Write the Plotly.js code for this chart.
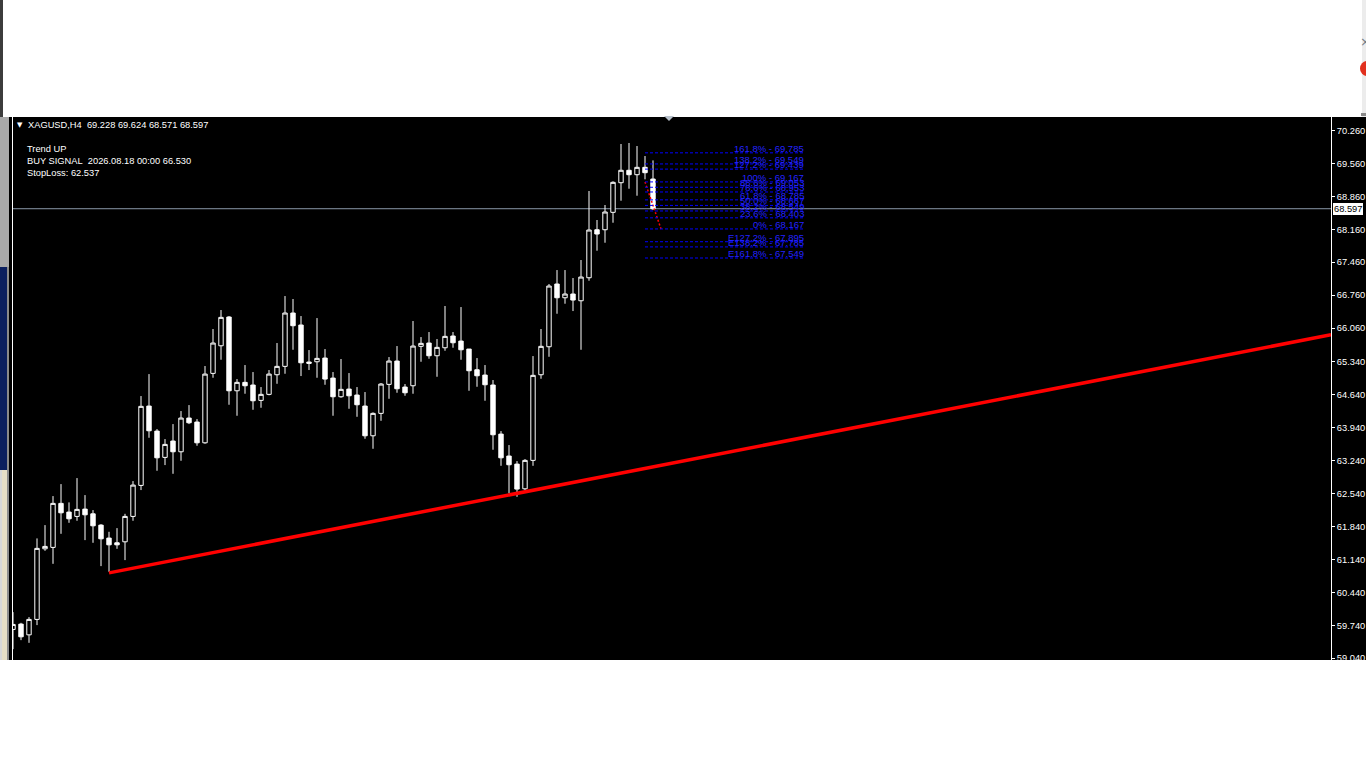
<!DOCTYPE html>
<html>
<head>
<meta charset="utf-8">
<script src="https://cdn.plot.ly/plotly-3.0.1.min.js"></script>
<style>
  html, body { margin:0; padding:0; background:#ffffff; width:1366px; height:768px; overflow:hidden; position:relative; }
  #chart { position:absolute; left:12px; top:117px; width:1354px; height:543px; }
  .deco { position:absolute; }
</style>
</head>
<body>
<div class="deco" style="left:0;top:0;width:3px;height:117px;background:#3c3c3c;"></div>
<div class="deco" style="left:0;top:117px;width:9px;height:150px;background:#a9a9a9;"></div>
<div class="deco" style="left:0;top:267px;width:7px;height:203px;background:#0b1f5e;"></div>
<div class="deco" style="left:7px;top:267px;width:2px;height:203px;background:#8a8a8a;"></div>
<div class="deco" style="left:0;top:470px;width:2px;height:190px;background:#d8d8d8;"></div>
<div class="deco" style="left:2px;top:470px;width:5px;height:190px;background:#e7dfc6;"></div>
<div class="deco" style="left:7px;top:470px;width:2px;height:190px;background:#8e8e8e;"></div>
<div class="deco" style="left:9px;top:117px;width:3px;height:543px;background:#000;"></div>
<div class="deco" style="left:1362px;top:0;width:4px;height:117px;background:#ececec;"></div>
<div class="deco" style="left:1361px;top:113px;width:5px;height:3px;background:#8a8a8a;"></div>
<div class="deco" style="left:1360px;top:34px;font-family:'DejaVu Sans';font-size:13px;color:#6f7a86;">×</div>
<div class="deco" style="left:1360px;top:61px;width:14px;height:15px;border-radius:50%;background:#e1301e;"></div>
<div id="chart"></div>
<div class="deco" style="left:12px;top:117px;width:1px;height:543px;background:#ffffff;z-index:5;"></div>
<div class="deco" style="left:664px;top:116px;width:0;height:0;border-left:5px solid transparent;border-right:5px solid transparent;border-top:5px solid #b9c2cc;z-index:5;"></div>
<script>
// ---- Data (XAGUSD, H4) ----
const symbolHeader = "XAGUSD,H4\u00a0\u00a069.228 69.624 68.571 68.597";
const infoLines = ["Trend UP", "BUY SIGNAL\u00a0\u00a02026.08.18 00:00 66.530", "StopLoss: 62.537"];

const openP = [59.652,59.765,59.537,59.865,61.366,61.396,62.332,62.147,62.055,62.210,
62.110,61.870,61.594,61.494,61.515,62.055,62.714,64.401,63.869,63.310,
63.657,63.429,64.146,64.061,63.620,65.096,65.683,66.294,64.726,64.905,
64.848,64.522,64.650,65.067,65.245,66.379,66.124,65.337,65.343,65.422,
64.996,64.599,64.762,64.635,64.401,63.769,64.246,64.862,65.358,64.805,
64.833,65.671,65.741,65.471,65.641,65.890,65.783,65.613,65.173,65.060,
64.848,63.805,63.338,63.167,62.642,63.246,65.067,65.662,66.996,66.704,
66.783,66.640,67.129,68.150,68.150,68.520,69.150,69.414,69.320,69.477,69.228];
const highP = [60.020,59.792,59.914,61.587,61.870,62.487,62.742,62.353,62.870,62.508,
62.189,61.891,61.728,61.806,62.110,62.806,64.614,65.081,63.912,63.699,
64.018,64.295,64.422,64.124,65.252,66.039,66.443,66.315,64.975,65.273,
65.124,64.805,65.167,65.741,66.740,66.677,66.315,65.592,66.272,65.613,
65.124,65.401,65.103,64.805,64.699,64.267,64.890,65.443,65.677,64.869,
66.209,65.868,65.975,65.826,66.528,65.975,66.506,65.613,65.422,65.273,
64.954,63.869,63.572,63.231,63.274,65.464,66.039,66.996,67.293,67.293,
67.123,67.506,68.973,68.357,68.676,69.180,69.973,69.994,69.930,69.717,69.624];
const lowP = [59.233,59.424,59.367,59.744,61.324,61.047,61.685,61.919,61.962,61.551,
61.494,60.998,60.877,61.366,61.126,61.962,62.615,63.727,63.025,63.146,
62.961,63.238,64.018,63.557,63.600,65.003,65.386,64.429,64.195,64.663,
64.322,64.365,64.630,64.875,65.088,65.598,65.039,65.167,65.003,64.854,
64.195,64.578,64.344,64.173,63.706,63.493,64.088,64.556,64.684,64.620,
64.663,65.343,65.407,65.024,65.577,65.641,65.386,64.726,64.811,64.514,
63.472,63.131,62.544,62.472,62.615,63.131,64.982,65.449,66.364,66.577,
66.421,65.598,67.066,67.704,67.874,68.299,68.767,69.022,68.873,69.222,68.571];
const closeP = [59.758,59.495,59.865,61.375,61.417,62.332,62.132,62.004,62.204,62.089,
61.855,61.579,61.451,61.451,62.055,62.721,64.395,63.876,63.301,63.586,
63.429,64.146,64.046,63.620,65.081,65.741,66.287,64.726,64.905,64.833,
64.514,64.650,65.081,65.245,66.379,66.109,65.322,65.309,65.415,64.975,
64.599,64.756,64.620,64.429,63.769,64.246,64.869,65.358,64.769,64.684,
65.677,65.734,65.471,65.649,65.883,65.747,65.598,65.152,65.045,64.854,
63.791,63.301,63.153,62.636,63.246,65.054,65.671,66.953,66.704,66.783,
66.655,67.144,68.144,68.059,68.527,69.158,69.414,69.320,69.477,69.363,68.597];

const lastPrice = 68.597;

// Price-scale tick labels
const yTickVals = [70.26,69.56,68.86,68.16,67.46,66.76,66.06,65.34,64.64,63.94,63.24,62.54,61.84,61.14,60.44,59.74,59.04];
const yTickText = ["70.260","69.560","68.860","68.160","67.460","66.760","66.060","65.340","64.640","63.940","63.240","62.540","61.840","61.140","60.440","59.740","59.040"];

// Trend line anchors (bar index, price)
const trendX = [12, 164.75];
const trendY = [60.855, 65.917];

// Fibonacci levels
const fibLabels = ["161.8%","138.2%","127.2%","100%","88.6%","78.6%","61.8%","50.0%","38.2%","23.6%","0%","E127.2%","E138.2%","E161.8%"];
const fibValues = [69.785,69.549,69.439,69.167,69.053,68.953,68.785,68.667,68.549,68.403,68.167,67.895,67.785,67.549];
const fibStartBar = 79;
const fibEndBar = 98.9;
const fibSwingX = [79, 81];
const fibSwingY = [69.167, 68.167];

// ---- Build chart ----
const barIndex = openP.map((_, i) => i);
const FONT = "'Liberation Sans', Arial, sans-serif";

const traces = [
  {
    type: 'candlestick',
    x: barIndex, open: openP, high: highP, low: lowP, close: closeP,
    increasing: { line: { color: '#ffffff', width: 1 }, fillcolor: '#000000' },
    decreasing: { line: { color: '#ffffff', width: 1 }, fillcolor: '#ffffff' },
    whiskerwidth: 0,
    hoverinfo: 'skip',
    showlegend: false
  },
  {
    type: 'scatter', mode: 'lines',
    x: trendX, y: trendY,
    line: { color: '#ff0000', width: 3.5 },
    hoverinfo: 'skip', showlegend: false
  },
  {
    type: 'scatter', mode: 'lines',
    x: fibSwingX, y: fibSwingY,
    line: { color: '#ff0000', width: 1.5, dash: '2px,2px' },
    hoverinfo: 'skip', showlegend: false
  }
];

const shapes = [
  { type: 'line', xref: 'paper', x0: 0, x1: 1, yref: 'y', y0: lastPrice, y1: lastPrice,
    line: { color: '#8a98a8', width: 1 }, layer: 'below' }
];
fibValues.forEach(v => {
  shapes.push({ type: 'line', xref: 'x', yref: 'y', x0: fibStartBar, x1: fibEndBar, y0: v, y1: v,
    line: { color: '#0000ff', width: 1, dash: '3px,2px' }, layer: 'above' });
});

const PW = 1319, PH = 543, LEFT = 12, TOP = 117;
const px = X => (X - LEFT) / PW;
const py = Y => 1 - (Y - TOP) / PH;

const annotations = [
  { xref: 'paper', yref: 'paper', x: px(19.5), y: py(124.5), xanchor: 'center', yanchor: 'middle',
    text: '▼', showarrow: false, font: { family: "'DejaVu Sans'", size: 7, color: '#ffffff' }, borderpad: 0, borderwidth: 0 },
  { xref: 'paper', yref: 'paper', x: px(28), y: py(124.5), xanchor: 'left', yanchor: 'middle',
    text: symbolHeader, showarrow: false, font: { family: FONT, size: 9.3, color: '#ffffff' }, borderpad: 0, borderwidth: 0 }
];
const infoY = [149, 161, 173];
infoLines.forEach((t, i) => {
  annotations.push({ xref: 'paper', yref: 'paper', x: px(27), y: py(infoY[i]), xanchor: 'left', yanchor: 'middle',
    text: t, showarrow: false, font: { family: FONT, size: 9.3, color: '#ffffff' }, borderpad: 0, borderwidth: 0 });
});
fibValues.forEach((v, i) => {
  annotations.push({ xref: 'x', yref: 'y', x: fibEndBar, y: v, xanchor: 'right', yanchor: 'bottom',
    text: fibLabels[i] + ' - ' + v.toFixed(3), showarrow: false,
    font: { family: FONT, size: 9.5, color: '#2323ff' }, borderpad: 0, borderwidth: 0, yshift: -1 });
});
annotations.push({ xref: 'paper', yref: 'y', x: px(1333), y: lastPrice, xanchor: 'left', yanchor: 'middle',
  text: lastPrice.toFixed(3), showarrow: false, bgcolor: '#ffffff',
  font: { family: FONT, size: 9.3, color: '#000000' }, borderpad: 1, borderwidth: 0 });

const layout = {
  width: 1354, height: 543,
  margin: { l: 0, r: 35, t: 0, b: 0, pad: 0 },
  paper_bgcolor: '#000000', plot_bgcolor: '#000000',
  showlegend: false,
  boxgap: 0.45, boxgroupgap: 0,
  xaxis: { range: [-0.125, 164.75], visible: false, rangeslider: { visible: false }, showgrid: false, zeroline: false, fixedrange: true },
  yaxis: {
    side: 'right', range: [59.002, 70.547], tickvals: yTickVals, ticktext: yTickText,
    showgrid: false, zeroline: false, showline: true, linecolor: '#ffffff', linewidth: 1,
    ticks: 'outside', ticklen: 3, tickcolor: '#ffffff', tickwidth: 1,
    ticklabeloverflow: 'allow',
    tickfont: { family: FONT, size: 9.3, color: '#ffffff' }, fixedrange: true
  },
  shapes: shapes,
  annotations: annotations
};

Plotly.newPlot('chart', traces, layout, { displayModeBar: false, staticPlot: true });
</script>
</body>
</html>
